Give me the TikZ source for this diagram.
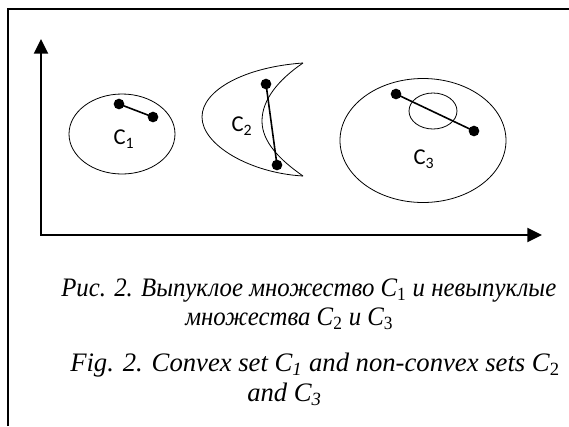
\documentclass[tikz,border=0pt]{standalone}
\usepackage{fontspec}
\setmainfont{Liberation Serif}
\newfontfamily\cyrserif{Liberation Serif}[FakeStretch=0.93]
\newfontfamily\labelfont{Carlito}
\usetikzlibrary{arrows.meta}
\begin{document}
\begin{tikzpicture}[x=0.75pt,y=-0.75pt,
  frameline/.style={line width=0.9pt},
  axis/.style={line width=1.6pt,{Triangle[width=10.5pt,length=11pt]}-{Triangle[width=10.5pt,length=11pt]}},
  outline/.style={line width=0.6pt},
  chord/.style={line width=1.2pt},
  dot/.style={circle,fill=black,inner sep=0pt,minimum size=8pt},
  setlabel/.style={font=\labelfont\fontsize{17}{20}\selectfont,inner sep=0pt},
  captionline/.style={font=\itshape\fontsize{20}{24}\selectfont,inner sep=0pt,anchor=base west},
  cyrline/.style={captionline,font=\cyrserif\itshape\fontsize{20}{24}\selectfont}]
\useasboundingbox (0,0) rectangle (569,426);
% frame
\coordinate (fb) at (8,426);
\coordinate (fc) at (8,9);
\coordinate (fr) at (569,9);
\draw[frameline] (fb) -- (fc) -- (fr);
% axes
\coordinate (O) at (41,235);
\coordinate (ytip) at (41,39);
\coordinate (xtip) at (542,235);
\draw[axis] (ytip) -- (O) -- (xtip);
% C1
\draw[outline] (122,134) ellipse [x radius=53, y radius=40];
\node[dot] (a1) at (119,104) {};
\node[dot] (b1) at (153,117) {};
\draw[chord] (a1.center) -- (b1.center);
\node[setlabel] (l1) at (124,139) {C\textsubscript{1}};
% C2
\draw[outline] (303,63) .. controls (245,67) and (202,90) .. (202,117)
  .. controls (202,145) and (250,173) .. (303,176);
\draw[outline] (303,63) .. controls (278,80) and (262,100) .. (262,121)
  .. controls (262,142) and (280,160) .. (303,176);
\node[dot] (a2) at (266,84) {};
\node[dot] (b2) at (277,165) {};
\draw[chord] (a2.center) -- (b2.center);
\node[setlabel] (l2) at (242,126) {C\textsubscript{2}};
% C3
\draw[outline] (423,140.5) ellipse [x radius=83, y radius=62];
\draw[outline] (433,111) ellipse [x radius=24, y radius=18];
\node[dot] (a3) at (396,94) {};
\node[dot] (b3) at (474,131) {};
\draw[chord] (a3.center) -- (b3.center);
\node[setlabel] (l3) at (424,159) {C\textsubscript{3}};
% captions
\node[cyrline] (t1) at (61,296) {Рис. 2. Выпуклое множество C\textsubscript{\upshape 1} и невыпуклые};
\node[cyrline] (t2) at (185,325) {множества C\textsubscript{\upshape 2} и C\textsubscript{\upshape 3}};
\node[captionline] (t3) at (70,371) {Fig. 2. Convex set C\textsubscript{1} and non-convex sets C\textsubscript{\upshape 2}};
\node[captionline] (t4) at (247,401) {and C\textsubscript{3}};
\end{tikzpicture}
\end{document}
